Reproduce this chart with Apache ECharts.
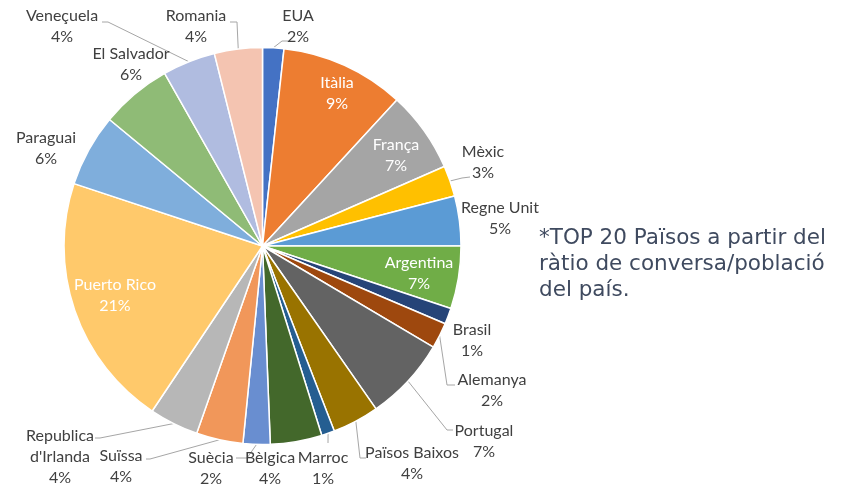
<!DOCTYPE html>
<html>
<head>
<meta charset="utf-8">
<title>TOP 20 Països</title>
<script src="https://cdn.jsdelivr.net/npm/echarts@6/dist/echarts.min.js"></script>
<style>
  html, body { margin: 0; padding: 0; background: #fff; }
  #chart { width: 861px; height: 485px; }
</style>
</head>
<body>
<div id="chart"></div>
<script>
// països, en ordre horari des de dalt
const countries = ['EUA', 'Itàlia', 'França', 'Mèxic', 'Regne Unit', 'Argentina', 'Brasil', 'Alemanya',
  'Portugal', 'Països Baixos', 'Marroc', 'Bèlgica', 'Suècia', 'Suïssa', "Republica d'Irlanda",
  'Puerto Rico', 'Paraguai', 'El Salvador', 'Veneçuela', 'Romania']
// mida de cada porció (llegida dels angles del gràfic)
const shares = [1.73, 10.1, 6.6, 2.5, 4.06, 5.1, 1.3, 2.1, 6.8, 3.8, 1.06, 4.2, 2.2, 3.8, 4.0,
  20.7, 5.9, 5.8, 4.3, 3.9]
// percentatge que mostra l'etiqueta
const pctLabels = [2, 9, 7, 3, 5, 7, 1, 2, 7, 4, 1, 4, 2, 4, 4, 21, 6, 6, 4, 4]

const colors = ['#4472C4', '#ED7D31', '#A5A5A5', '#FFC000', '#5B9BD5', '#70AD47', '#264478', '#9E480E',
  '#636363', '#997300', '#255E91', '#43682B', '#698ED0', '#F1975A', '#B7B7B7',
  '#FFC96B', '#7FAEDC', '#8FBB76', '#B0BCE0', '#F4C4B1']

// etiquetes dins de la porció
const insideNames = ['Itàlia', 'França', 'Argentina', 'Puerto Rico']

// on va cada etiqueta (centre del text) i el colze de la línia guia
const labelSpots = {
  'EUA': { x: 298, y: 26, line: [[282, 41], [288, 41]] },
  'Itàlia': { x: 337, y: 93 },
  'França': { x: 396, y: 155 },
  'Mèxic': { x: 483, y: 162, line: [[462, 178], [470, 177]] },
  'Regne Unit': { x: 500, y: 218 },
  'Argentina': { x: 419, y: 273 },
  'Brasil': { x: 472, y: 340 },
  'Alemanya': { x: 492, y: 390, line: [[447, 385], [455, 385]] },
  'Portugal': { x: 484, y: 441, line: [[447, 430], [453, 430]] },
  'Països Baixos': { x: 412, y: 463, line: [[360, 458], [366, 458]] },
  'Marroc': { x: 323, y: 468, line: [[328, 443], [328, 443]] },
  'Bèlgica': { x: 270, y: 468 },
  'Suècia': { x: 211, y: 468, line: [[247, 458], [236, 458]] },
  'Suïssa': { x: 121, y: 466, line: [[150, 459], [146, 459]] },
  "Republica d'Irlanda": { x: 60, y: 457, line: [[100, 438], [95, 438]] },
  'Puerto Rico': { x: 115, y: 295 },
  'Paraguai': { x: 46, y: 148 },
  'El Salvador': { x: 131, y: 64 },
  'Veneçuela': { x: 62, y: 26, line: [[108, 22], [102, 22]] },
  'Romania': { x: 196, y: 26, line: [[237, 22], [230, 22]] }
}

const chart = echarts.init(document.getElementById('chart'))

const pieData = countries.map((name, i) => {
  const inside = insideNames.includes(name)
  return {
    name: name,
    value: shares[i],
    itemStyle: { color: colors[i] },
    label: { color: inside ? '#ffffff' : '#404040' },
    labelLine: { show: !!labelSpots[name].line }
  }
})

const option = {
  backgroundColor: '#ffffff',
  animation: false,
  graphic: [
    {
      type: 'text',
      left: 539,
      top: 225,
      style: {
        text: '*TOP 20 Països a partir del\nràtio de conversa/població\ndel país.',
        font: '21.5px "DejaVu Sans"',
        lineHeight: 26,
        fill: '#3F4A5F'
      }
    }
  ],
  series: [
    {
      type: 'pie',
      center: [262.5, 246],
      radius: 198.5,
      startAngle: 90,
      clockwise: true,
      data: pieData,
      itemStyle: {
        borderColor: '#ffffff',
        borderWidth: 1.5
      },
      label: {
        show: true,
        position: 'outside',
        fontFamily: 'Lato',
        fontSize: 16,
        lineHeight: 21,
        align: 'center',
        overflow: 'none',
        width: 200,
        formatter: p => p.name.replace('Republica ', 'Republica\n') + '\n' + pctLabels[p.dataIndex] + '%'
      },
      labelLine: {
        show: true,
        length: 10,
        length2: 10,
        lineStyle: { color: '#A6A6A6', width: 1 }
      },
      labelLayout: params => {
        const spot = labelSpots[countries[params.dataIndex]]
        const out = {
          x: spot.x,
          y: spot.y,
          align: 'center',
          verticalAlign: 'middle'
        }
        if (spot.line && params.labelLinePoints) {
          out.labelLinePoints = [params.labelLinePoints[0], spot.line[0], spot.line[1]]
        }
        return out
      },
      emphasis: { disabled: true }
    }
  ]
}

chart.setOption(option)
</script>
</body>
</html>
